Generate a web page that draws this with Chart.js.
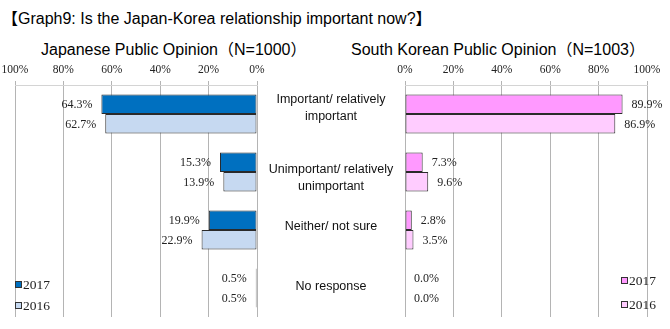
<!DOCTYPE html>
<html>
<head>
<meta charset="utf-8">
<script src="https://cdn.jsdelivr.net/npm/chart.js@4.4.0/dist/chart.umd.min.js"></script>
<style>
  html, body { margin: 0; padding: 0; background: #fff; }
  #wrap { position: relative; width: 670px; height: 329px; overflow: hidden; }
  #wrap canvas { position: absolute; left: 0; top: 0; }
  .txt { position: absolute; white-space: nowrap; color: #000;
         font-family: 'Liberation Sans', Arial, 'Noto Sans CJK JP', sans-serif; }
  #title { left: 2px; top: 5px; font-size: 16px; }
  .sub { top: 36px; font-size: 16px; }
</style>
</head>
<body>
<div id="wrap">
  <div id="title" class="txt">【Graph9: Is the Japan-Korea relationship important now?】</div>
  <div class="txt sub" style="left:41px">Japanese Public Opinion（N=1000）</div>
  <div class="txt sub" style="left:351px">South Korean Public Opinion（N=1003）</div>
  <canvas id="jpChart" width="670" height="329"></canvas>
  <canvas id="krChart" width="670" height="329"></canvas>
</div>
<script>
// answers per category, two survey years
const categories = [
  ['Important/ relatively', 'important'],
  ['Unimportant/ relatively', 'unimportant'],
  ['Neither/ not sure'],
  ['No response']
];
const years = ['2017', '2016'];
const japan2017 = [64.3, 15.3, 19.9, 0.5];
const japan2016 = [62.7, 13.9, 22.9, 0.5];
const korea2017 = [89.9, 7.3, 2.8, 0.0];
const korea2016 = [86.9, 9.6, 3.5, 0.0];
const percentTicks = [0, 20, 40, 60, 80, 100];

const SERIF = "'Liberation Serif', 'Times New Roman', serif";
const SANS = "'Liberation Sans', Arial, sans-serif";

// value text next to the end of every bar
const valueLabels = {
  id: 'valueLabels',
  afterDatasetsDraw(chart, args, opts) {
    const ctx = chart.ctx;
    ctx.save();
    ctx.font = '12px ' + SERIF;
    ctx.fillStyle = '#222';
    ctx.textBaseline = 'middle';
    ctx.textAlign = opts.side === 'left' ? 'right' : 'left';
    chart.data.datasets.forEach((ds, di) => {
      chart.getDatasetMeta(di).data.forEach((bar, i) => {
        const x = opts.side === 'left' ? bar.x - 9 : bar.x + 9;
        ctx.fillText(ds.data[i].toFixed(1) + '%', x, bar.y + 1);
      });
    });
    ctx.restore();
  }
};

// small square legend in a corner of the plot
const yearLegend = {
  id: 'yearLegend',
  afterDraw(chart, args, opts) {
    const ctx = chart.ctx;
    const area = chart.chartArea;
    const x = opts.side === 'left' ? area.left : area.right - 26;
    ctx.save();
    ctx.font = '13.5px ' + SERIF;
    ctx.textBaseline = 'middle';
    ctx.textAlign = 'left';
    chart.data.datasets.forEach((ds, i) => {
      const y = opts.rows[i];
      ctx.fillStyle = ds.backgroundColor;
      ctx.fillRect(x + 0.5, y - 3.5, 6, 6);
      ctx.strokeStyle = '#333';
      ctx.lineWidth = 1;
      ctx.strokeRect(x + 0.5, y - 3.5, 6, 6);
      ctx.fillStyle = '#222';
      ctx.fillText(ds.label, x + 8, y);
    });
    ctx.restore();
  }
};

// category names in the gap between the two charts
const centerLabels = {
  id: 'centerLabels',
  afterDraw(chart, args, opts) {
    const ctx = chart.ctx;
    const yScale = chart.scales.y;
    ctx.save();
    ctx.font = '12.5px ' + SANS;
    ctx.fillStyle = '#111';
    ctx.textAlign = 'center';
    ctx.textBaseline = 'middle';
    categories.forEach((lines, i) => {
      const cy = yScale.getPixelForValue(i) + opts.shift[i];
      const top = cy - (lines.length - 1) * 17 / 2;
      lines.forEach((line, j) => ctx.fillText(line, opts.x, top + j * 17));
    });
    ctx.restore();
  }
};

function makeOptions(reverse, padding, legendSide, legendRows, extra) {
  return {
    responsive: false,
    animation: false,
    indexAxis: 'y',
    layout: { padding: padding },
    datasets: {
      bar: {
        categoryPercentage: 0.67,
        barPercentage: 1,
        borderWidth: 1,
        borderColor: '#2a2a2a',
        borderSkipped: false
      }
    },
    scales: {
      x: {
        position: 'top',
        reverse: reverse,
        min: 0,
        max: 100,
        afterBuildTicks: scale => { scale.ticks = percentTicks.map(v => ({ value: v })); },
        afterFit: scale => { scale.height = 24; },
        grid: { color: '#b4b4b4', tickLength: 4, lineWidth: 1 },
        border: { display: true, color: '#d4d4d4' },
        ticks: {
          padding: 4,
          maxRotation: 0,
          color: '#222',
          font: { family: SERIF, size: 11.5 },
          callback: v => v + '%'
        }
      },
      y: { display: false }
    },
    plugins: {
      legend: { display: false },
      tooltip: { enabled: false },
      valueLabels: { side: reverse ? 'left' : 'right' },
      yearLegend: { side: legendSide, rows: legendRows },
      ...extra
    }
  };
}

// === JAPAN (left, bars grow to the left) ===
new Chart(document.getElementById('jpChart'), {
  type: 'bar',
  data: {
    labels: categories,
    datasets: [
      { label: years[0], data: japan2017, backgroundColor: '#0070C0' },
      { label: years[1], data: japan2016, backgroundColor: '#C6D9F1' }
    ]
  },
  options: makeOptions(true, { left: 15, right: 413, top: 61, bottom: 12 }, 'left', [285, 306],
    { centerLabels: { x: 331, shift: [-5.5, 6.5, -3, -1] } }),
  plugins: [valueLabels, yearLegend, centerLabels]
});

// === SOUTH KOREA (right) ===
new Chart(document.getElementById('krChart'), {
  type: 'bar',
  data: {
    labels: categories,
    datasets: [
      { label: years[0], data: korea2017, backgroundColor: '#FF99FF' },
      { label: years[1], data: korea2016, backgroundColor: '#FFCCFF' }
    ]
  },
  options: makeOptions(false, { left: 405, right: 23, top: 61, bottom: 12 }, 'right', [281, 305], {}),
  plugins: [valueLabels, yearLegend]
});
</script>
</body>
</html>
